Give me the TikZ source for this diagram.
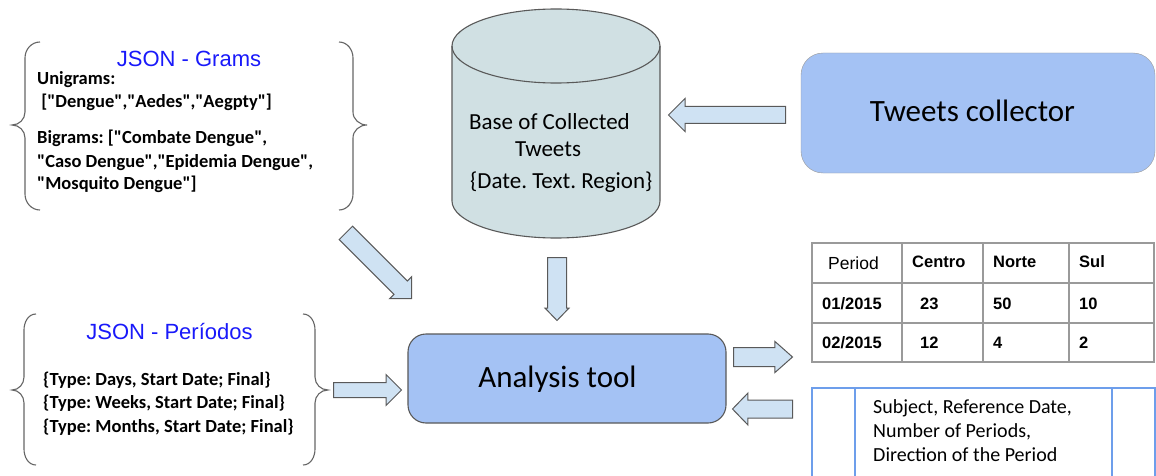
\documentclass[tikz,border=0pt]{standalone}
\usepackage{fontspec}
\setmainfont{Carlito}[Ligatures=TeXOff]
\newfontfamily\arialf{Liberation Sans}[Ligatures=TeXOff]
\usetikzlibrary{shapes.arrows}
\definecolor{arrowfill}{HTML}{CFE2F3}
\definecolor{arrowline}{HTML}{595959}
\definecolor{boxfill}{HTML}{A4C2F4}
\definecolor{dbfill}{HTML}{D0E0E3}
\definecolor{jsonblue}{RGB}{25,25,250}
\definecolor{tblline}{HTML}{9A9A9A}
\definecolor{reqline}{HTML}{6D9EEB}
\definecolor{braceline}{HTML}{666666}
\frenchspacing
\tikzset{
  barrow/.style={single arrow, draw=arrowline, fill=arrowfill, line width=1pt, inner xsep=0pt, anchor=tail},
  txt/.style={anchor=base west, inner sep=0pt},
  ctxt/.style={anchor=base, inner sep=0pt},
  jsonhead/.style={ctxt, font=\arialf\fontsize{22}{24}\selectfont, text=jsonblue},
  jsontxt/.style={txt, font=\bfseries\fontsize{18.5}{20}\selectfont},
  dbtxt/.style={font=\fontsize{23}{25}\selectfont},
  bigtxt/.style={ctxt, font=\fontsize{31}{33}\selectfont},
  tbhead/.style={txt, font=\arialf\fontsize{17.5}{19}\selectfont},
  tbtxt/.style={txt, font=\arialf\bfseries\fontsize{16.5}{18}\selectfont},
  reqtxt/.style={txt, font=\fontsize{20}{22}\selectfont},
  bluebox/.style={draw, fill=boxfill, inner sep=0pt},
  bracestyle/.style={draw=braceline, line width=1.1pt},
}
\begin{document}
\begin{tikzpicture}[x=1pt,y=-1pt]
\clip (0,0) rectangle (1156,476);
\fill[white] (0,0) rectangle (1156,476);

% ---------- JSON - Grams ----------
\draw[bracestyle] (40,42) to[out=180,in=90] (25,58) -- (25,112) to[out=-90,in=0] (12,125)
  to[out=0,in=90] (25,138) -- (25,194) to[out=-90,in=180] (40,210);
\draw[bracestyle] (339,42) to[out=0,in=90] (353,58) -- (353,112) to[out=-90,in=180] (367,125)
  to[out=180,in=90] (353,138) -- (353,194) to[out=-90,in=0] (339,210);
\node[jsonhead] (gh) at (189,67) {JSON - Grams};
\node[jsontxt] (g1) at (37,85) {Unigrams:};
\node[jsontxt] (g2) at (37,108) {\ ["Dengue","Aedes","Aegpty"]};
\node[jsontxt] (g3) at (37,143) {Bigrams: ["Combate Dengue",};
\node[jsontxt] (g4) at (37,167) {"Caso Dengue","Epidemia Dengue",};
\node[jsontxt] (g5) at (37,189) {"Mosquito Dengue"]};

% ---------- JSON - Periodos ----------
\draw[bracestyle] (36,314) to[out=180,in=90] (24,330) -- (24,377) to[out=-90,in=0] (12,390)
  to[out=0,in=90] (24,403) -- (24,449) to[out=-90,in=180] (36,465);
\draw[bracestyle] (303,314) to[out=0,in=90] (315,330) -- (315,377) to[out=-90,in=180] (328,390)
  to[out=180,in=90] (315,403) -- (315,449) to[out=-90,in=0] (303,465);
\node[jsonhead] (ph) at (169.5,339) {JSON - Períodos};
\node[jsontxt] (p1) at (43,385) {\{Type: Days, Start Date; Final\}};
\node[jsontxt] (p2) at (43,408) {\{Type: Weeks, Start Date; Final\}};
\node[jsontxt] (p3) at (43,432) {\{Type: Months, Start Date; Final\}};

% ---------- Database cylinder ----------
\draw[draw=arrowline, fill=dbfill, line width=1.1pt]
  (452,46) -- (452,201) arc[start angle=180, end angle=360, x radius=104, y radius=-37]
  -- (660,46) arc[start angle=0, end angle=180, x radius=104, y radius=-37] -- cycle;
\draw[draw=arrowline, line width=1.1pt] (452,46) arc[start angle=180, end angle=360, x radius=104, y radius=-37];
\node[coordinate] (db) at (556,123) {};
\node[txt, dbtxt] (d1) at (469,129) {Base of Collected};
\node[ctxt, dbtxt] (d2) at (548,157) {Tweets};
\node[txt, dbtxt] (d3) at (470,188) {\{Date. Text. Region\}};

% ---------- Tweets collector ----------
\node[bluebox, draw=tblline, rounded corners=22pt, minimum width=354pt, minimum height=120pt] (tc) at (978,113) {};
\node[bigtxt] (tcl) at (972.5,122) {Tweets collector};

% ---------- Analysis tool ----------
\node[bluebox, draw=arrowline, line width=1.1pt, rounded corners=18pt, minimum width=318pt, minimum height=89pt] (at) at (567,378.5) {};
\node[bigtxt] (atl) at (557.5,387) {Analysis tool};

% ---------- Table ----------
\draw[tblline, line width=1.2pt] (812,243) rectangle (1154,362);
\foreach \yy in {283,323} \draw[tblline, line width=1.2pt] (812,\yy) -- (1154,\yy);
\foreach \xx in {902,983,1069} \draw[tblline, line width=1.2pt] (\xx,243) -- (\xx,362);
\node[tbhead] (t00) at (828,269) {Period};
\node[tbtxt] (t01) at (912,267) {Centro};
\node[tbtxt] (t02) at (993,267) {Norte};
\node[tbtxt] (t03) at (1079,267) {Sul};
\node[tbtxt] (t10) at (822,309) {01/2015};
\node[tbtxt] (t11) at (920,309) {23};
\node[tbtxt] (t12) at (993,309) {50};
\node[tbtxt] (t13) at (1079,309) {10};
\node[tbtxt] (t20) at (822,348) {02/2015};
\node[tbtxt] (t21) at (920,348) {12};
\node[tbtxt] (t22) at (993,348) {4};
\node[tbtxt] (t23) at (1079,348) {2};
\node[coordinate] (tbl) at (983,302) {};

% ---------- Request box ----------
\draw[reqline, line width=1.2pt] (812,388) rectangle (1155,500);
\draw[reqline, line width=1.2pt] (855,388) -- (855,500) (1112,388) -- (1112,500);
\node[reqtxt] (r1) at (873,413) {Subject, Reference Date,};
\node[reqtxt] (r2) at (873,437) {Number of Periods,};
\node[reqtxt] (r3) at (873,461) {Direction of the Period};
\node[coordinate] (req) at (983,430) {};

% ---------- Block arrows ----------
\node[barrow, rotate=180, inner ysep=8pt, minimum height=117pt, single arrow head extend=8pt, single arrow tip angle=90] (a1) at (786,115) {};
\node[barrow, rotate=-90, inner ysep=9pt, minimum height=63pt, single arrow head extend=2.5pt, single arrow tip angle=88] (a2) at (557,257) {};
\node[barrow, rotate=-45, inner ysep=9pt, minimum height=93pt, single arrow head extend=6pt, single arrow tip angle=90] (a3) at (345.5,232.5) {};
\node[barrow, inner ysep=7pt, minimum height=68pt, single arrow head extend=8pt, single arrow tip angle=90] (a4) at (333,390) {};
\node[barrow, inner ysep=9pt, minimum height=59pt, single arrow head extend=6pt, single arrow tip angle=83] (a5) at (733,357) {};
\node[barrow, rotate=180, inner ysep=8.5pt, minimum height=60pt, single arrow head extend=7pt, single arrow tip angle=92] (a6) at (793,409) {};
\end{tikzpicture}
\end{document}
